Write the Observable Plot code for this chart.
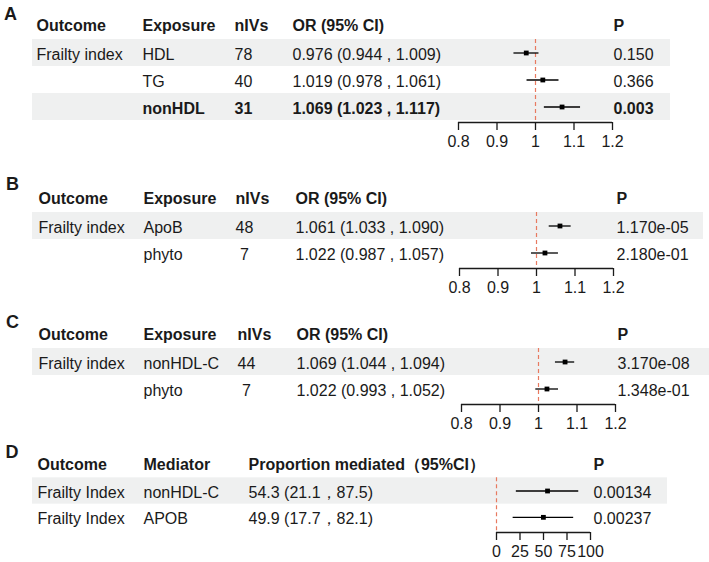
<!DOCTYPE html>
<html><head><meta charset="utf-8">
<script src="https://cdn.jsdelivr.net/npm/d3@7"></script>
<script src="https://cdn.jsdelivr.net/npm/@observablehq/plot@0.6"></script>
<style>
body{margin:0;background:#fff;}
#root{position:relative;width:709px;height:562px;overflow:hidden;font-family:"Liberation Sans",Arial,sans-serif;color:#1a1a1a;background:#fff;}
.panel{position:absolute;left:0;}
.lab{position:absolute;font-weight:bold;font-size:18px;line-height:18px;}
</style></head><body><div id="root"></div>
<script>
// ---------- data ----------
const orHeaders = ["Outcome", "Exposure", "nIVs", "OR (95% CI)", "P"];
const orTicks = [0.8, 0.9, 1, 1.1, 1.2];

// Panel A
const aOutcome = ["Frailty index", "", ""];
const aExposure = ["HDL", "TG", "nonHDL"];
const aNIVs = ["78", "40", "31"];
const aOR = [0.976, 1.019, 1.069];
const aLow = [0.944, 0.978, 1.023];
const aHigh = [1.009, 1.061, 1.117];
const aP = ["0.150", "0.366", "0.003"];
const aBold = ["nonHDL"];

// Panel B
const bOutcome = ["Frailty index", ""];
const bExposure = ["ApoB", "phyto"];
const bNIVs = ["48", "\u00a07"];
const bOR = [1.061, 1.022];
const bLow = [1.033, 0.987];
const bHigh = [1.090, 1.057];
const bP = ["1.170e-05", "2.180e-01"];

// Panel C
const cOutcome = ["Frailty index", ""];
const cExposure = ["nonHDL-C", "phyto"];
const cNIVs = ["44", "\u00a07"];
const cOR = [1.069, 1.022];
const cLow = [1.044, 0.993];
const cHigh = [1.094, 1.052];
const cP = ["3.170e-08", "1.348e-01"];

// Panel D
const dHeaders = ["Outcome", "Mediator", "Proportion mediated\uff0895%CI\uff09", "P"];
const dOutcome = ["Frailty Index", "Frailty Index"];
const dMediator = ["nonHDL-C", "APOB"];
const dProp = [54.3, 49.9];
const dLow = [21.1, 17.7];
const dHigh = [87.5, 82.1];
const dP = ["0.00134", "0.00237"];
const dTicks = [0, 25, 50, 75, 100];

// ---------- build rows ----------
const fmt3 = v => v.toFixed(3);
const fmt1 = v => v.toFixed(1);
function orRows(outcome, exposure, nivs, est, low, high, p, bold = []) {
  return exposure.map((e, i) => ({
    key: e, est: est[i], low: low[i], high: high[i], bold: bold.includes(e),
    cols: [outcome[i], e, nivs[i], `${fmt3(est[i])} (${fmt3(low[i])} , ${fmt3(high[i])})`, p[i]]
  }));
}
const rowsA = orRows(aOutcome, aExposure, aNIVs, aOR, aLow, aHigh, aP, aBold);
const rowsB = orRows(bOutcome, bExposure, bNIVs, bOR, bLow, bHigh, bP);
const rowsC = orRows(cOutcome, cExposure, cNIVs, cOR, cLow, cHigh, cP);
const rowsD = dMediator.map((m, i) => ({
  key: m, est: dProp[i], low: dLow[i], high: dHigh[i], bold: false,
  cols: [dOutcome[i], m, `${fmt1(dProp[i])} (${fmt1(dLow[i])}\uff0c${fmt1(dHigh[i])})`, dP[i]]
}));

// ---------- panel renderer ----------
function panel(cfg) {
  const {rows, headers, top, height, yRange, gap, mLeft, mRight, xDomain, xRange, ticks, ref, colX, label, labelLeft, labelTop} = cfg;
  const keys = ["__hdr", ...rows.map(d => d.key)];
  const bw = (yRange[1] - yRange[0]) / keys.length;
  const axisY = yRange[1] + gap;
  const lastKey = rows[rows.length - 1].key;
  const hdr = [{key: "__hdr", cols: headers}];
  const marks = [
    Plot.cell(rows.filter((d, i) => i % 2 === 0), {y: "key", fill: "#eff0f0", inset: 0}),
    Plot.ruleX([ref], {x: d => d, y1: () => rows[0].key, y2: () => lastKey, stroke: "#e87a60", strokeWidth: 1.2, strokeDasharray: "4,3", insetBottom: -gap}),
    Plot.ruleY(rows, {y: "key", x1: "low", x2: "high", stroke: "#000", strokeWidth: 1.3}),
    Plot.dot(rows, {y: "key", x: "est", symbol: "square", r: 2.7, fill: "#000", stroke: null}),
    Plot.ruleY([lastKey], {y: d => d, x1: () => xDomain[0], x2: () => xDomain[1], dy: bw / 2 + gap, stroke: "#1a1a1a", strokeWidth: 1.3}),
    Plot.axisX({ticks, tickFormat: d => String(d), tickSize: 8, tickPadding: 5, fontSize: 16, strokeWidth: 1.3, label: null, anchor: "bottom"})
  ];
  headers.forEach((h, j) => {
    marks.push(Plot.text(hdr, {y: "key", text: d => d.cols[j], frameAnchor: "left", textAnchor: "start", dx: colX[j] - mLeft, fontSize: 16, fontWeight: "bold"}));
    marks.push(Plot.text(rows.filter(d => !d.bold), {y: "key", text: d => d.cols[j], frameAnchor: "left", textAnchor: "start", dx: colX[j] - mLeft, dy: 2, fontSize: 16}));
    marks.push(Plot.text(rows.filter(d => d.bold), {y: "key", text: d => d.cols[j], frameAnchor: "left", textAnchor: "start", dx: colX[j] - mLeft, dy: 2, fontSize: 16, fontWeight: "bold"}));
  });
  const svg = Plot.plot({
    width: 709, height,
    marginLeft: mLeft, marginRight: mRight, marginTop: yRange[0], marginBottom: height - axisY,
    style: {fontFamily: '"Liberation Sans", Arial, sans-serif', fontSize: "16px", color: "#1a1a1a", background: "transparent", overflow: "visible"},
    x: {domain: xDomain, range: xRange, axis: null},
    y: {type: "band", domain: keys, range: yRange, padding: 0, round: false, axis: null},
    marks
  });
  const wrap = document.createElement("div");
  wrap.className = "panel";
  wrap.style.top = top + "px";
  wrap.appendChild(svg);
  const lab = document.createElement("div");
  lab.className = "lab";
  lab.textContent = label;
  lab.style.left = labelLeft + "px";
  lab.style.top = labelTop + "px";
  const root = document.getElementById("root");
  root.appendChild(wrap);
  root.appendChild(lab);
}

panel({rows: rowsA, headers: orHeaders, top: 0, height: 160, yRange: [12, 120], gap: 2, mLeft: 32, mRight: 39,
  xDomain: [0.8, 1.2], xRange: [458, 612], ticks: orTicks, ref: 1, colX: [36, 142, 234, 292, 613], label: "A", labelLeft: 4, labelTop: 4.6});
panel({rows: rowsB, headers: orHeaders, top: 170, height: 130, yRange: [15, 96], gap: 2, mLeft: 32, mRight: 6,
  xDomain: [0.8, 1.2], xRange: [459, 613], ticks: orTicks, ref: 1, colX: [38, 143, 235, 295, 616], label: "B", labelLeft: 6, labelTop: 174.6});
panel({rows: rowsC, headers: orHeaders, top: 305, height: 130, yRange: [16, 97], gap: 2, mLeft: 32, mRight: 0,
  xDomain: [0.8, 1.2], xRange: [461, 615], ticks: orTicks, ref: 1, colX: [38, 143, 237, 296, 617], label: "C", labelLeft: 6, labelTop: 312.6});
panel({rows: rowsD, headers: dHeaders, top: 440, height: 122, yRange: [11, 90], gap: 2, mLeft: 32, mRight: 42,
  xDomain: [0, 100], xRange: [496, 590], ticks: dTicks, ref: 0, colX: [37, 143, 248, 593], label: "D", labelLeft: 5.5, labelTop: 442.6});
</script></body></html>
